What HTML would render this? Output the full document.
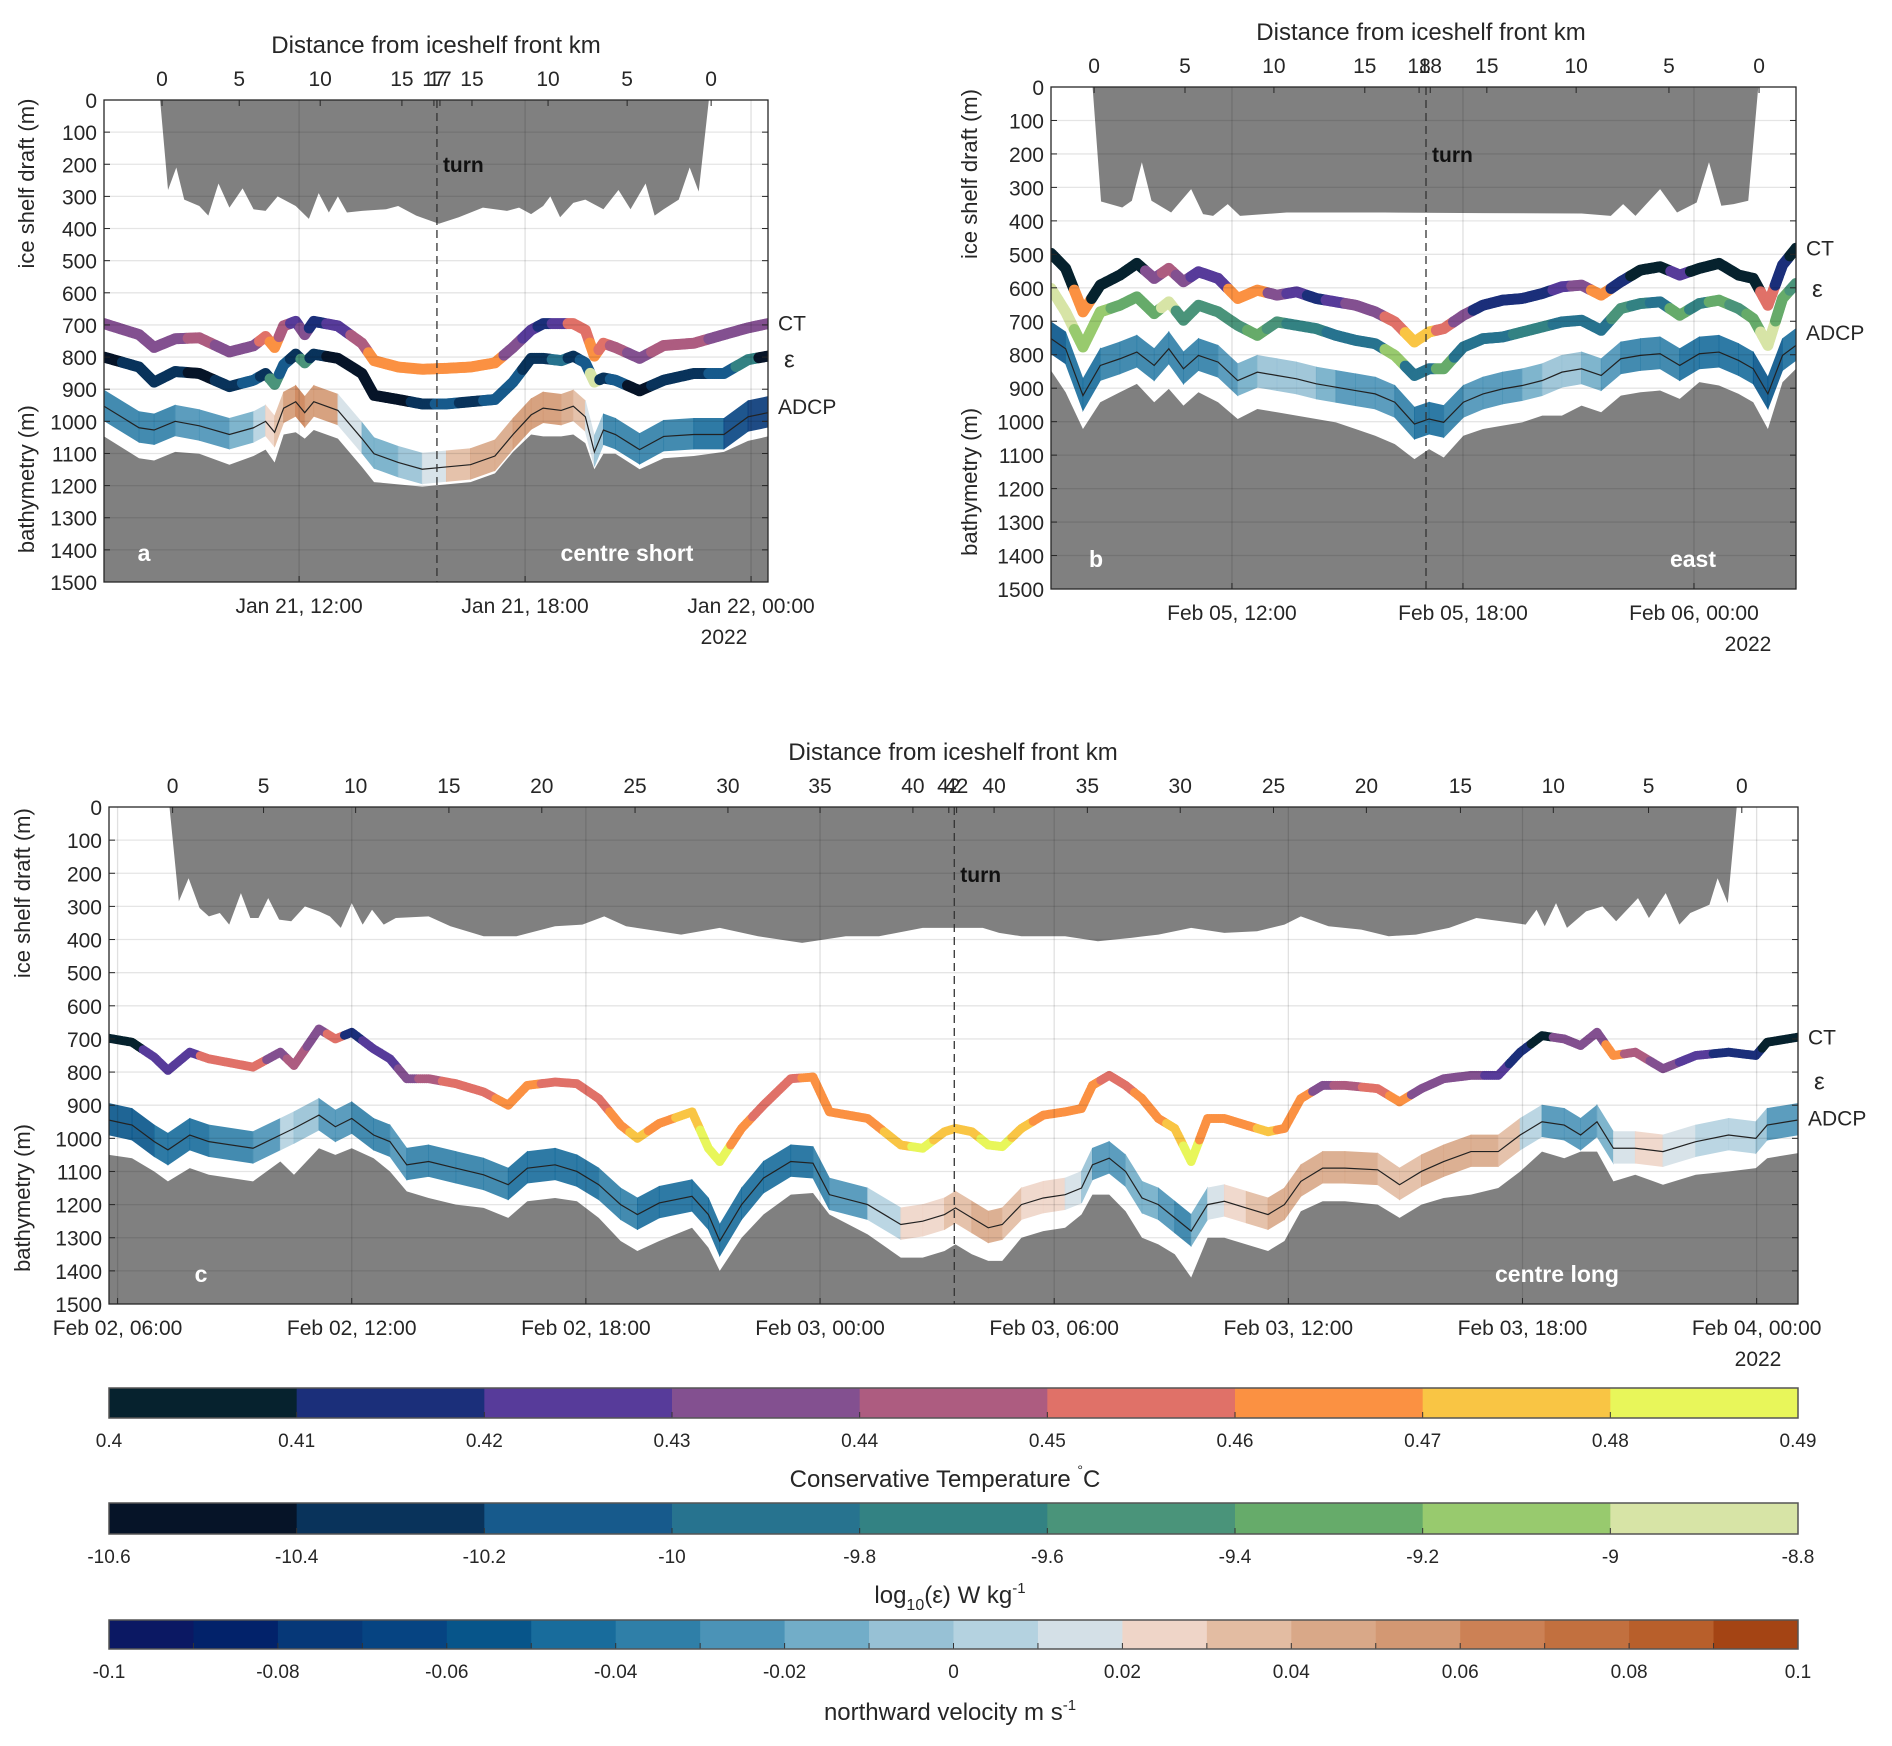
<!DOCTYPE html>
<html><head><meta charset="utf-8">
<style>
html,body{margin:0;padding:0;background:#fff;}
svg{display:block;font-family:"Liberation Sans",Arial,sans-serif;}
</style></head>
<body>
<svg id="fig" width="1892" height="1746" viewBox="0 0 1892 1746" xmlns="http://www.w3.org/2000/svg"></svg>
<script>
// ---------------- Panel a (Jan 21, hours since Jan 21 00:00) ----------------
const aTime  = [6.82,7.75,8.15,8.71,9.35,10.15,10.79,11.11,11.35,11.59,11.91,12.15,12.39,13.03,13.67,13.99,14.63,15.27,15.91,16.55,17.20,17.68,18.16,18.48,18.96,19.28,19.60,19.84,20.08,20.40,21.04,21.68,22.48,23.28,23.92,24.45];
const aCT    = [696,730,770,743,740,784,765,736,770,703,689,730,689,703,757,811,831,838,835,831,818,770,716,696,696,696,716,797,757,770,804,764,757,730,709,696];
const aCTval = [0.435,0.437,0.44,0.44,0.445,0.44,0.44,0.45,0.46,0.445,0.425,0.435,0.42,0.425,0.445,0.46,0.465,0.465,0.465,0.465,0.46,0.44,0.425,0.42,0.43,0.45,0.455,0.46,0.45,0.445,0.44,0.445,0.445,0.44,0.435,0.435];
const aEps   = [800,831,878,845,851,892,872,851,885,824,791,818,791,804,851,919,932,946,946,939,932,878,804,804,811,797,818,878,865,872,905,872,851,851,808,797];
const aEpsVal= [-10.45,-10.3,-10.35,-10.3,-10.4,-10.3,-10.2,-10.3,-9.5,-10.2,-10.3,-9.6,-10.3,-10.4,-10.4,-10.45,-10.4,-10.3,-10.2,-10.3,-10.1,-10.2,-10.3,-10.35,-9.9,-10.3,-10.1,-9.0,-10.3,-10.2,-10.45,-10.3,-10.3,-10.2,-9.7,-10.4];
const aAdcp  = [953,1020,1027,1000,1014,1041,1020,1000,1034,959,939,973,939,966,1054,1101,1128,1149,1142,1135,1108,1041,980,959,966,953,986,1095,1027,1041,1088,1047,1041,1041,986,973];
const aVel   = [-0.04,-0.04,-0.04,-0.03,-0.03,-0.02,-0.01,0.02,0.02,0.04,0.07,0.06,0.06,0.04,-0.01,-0.02,-0.01,0.0,0.03,0.04,0.04,0.05,0.05,0.05,0.05,0.04,0.02,0.01,-0.03,-0.04,-0.04,-0.04,-0.04,-0.05,-0.07,-0.08];
const aBathy = [1047,1115,1122,1095,1101,1135,1108,1088,1128,1041,1034,1054,1027,1054,1142,1189,1196,1203,1196,1189,1162,1095,1041,1047,1047,1041,1068,1149,1101,1101,1149,1115,1108,1095,1061,1047];
const aIceTime = [8.31,8.52,8.74,8.95,9.35,9.59,9.86,10.15,10.50,10.79,11.11,11.43,11.91,12.26,12.52,12.79,13.03,13.27,13.67,14.31,14.63,15.11,15.71,16.24,16.88,17.52,17.84,18.16,18.48,18.67,18.93,19.28,19.60,20.08,20.48,20.80,21.20,21.44,21.68,22.08,22.37,22.61,22.88];
const aIce     = [0,280,210,310,330,360,260,335,275,340,345,300,330,370,290,350,300,350,345,340,330,360,385,365,335,345,335,355,330,300,365,320,310,340,280,340,260,360,340,310,210,285,0];
const aDateTicks = [12,18,24];
const aDateLabels = ["Jan 21, 12:00","Jan 21, 18:00","Jan 22, 00:00"];
const aDistTicks = [8.36,10.41,12.56,14.73,15.58,15.74,16.59,18.61,20.71,22.94];
const aDistLabels = ["0","5","10","15","17","17","15","10","5","0"];

// ---------------- Panel b (Feb 05, hours since Feb 05 00:00) ----------------
const bTime  = [7.30,7.68,8.13,8.58,9.09,9.53,9.98,10.36,10.74,11.13,11.64,12.15,12.66,13.17,13.68,14.19,14.70,15.21,15.72,16.23,16.74,17.12,17.50,18.01,18.52,19.03,19.54,20.06,20.57,21.08,21.59,22.10,22.61,23.12,23.63,24.14,24.65,25.16,25.54,25.92,26.30,26.65];
const bCT    = [497,542,672,592,562,527,572,542,582,552,572,632,607,622,612,632,642,652,672,702,762,732,722,682,652,637,632,617,597,592,622,582,547,537,562,542,527,562,572,652,532,482];
const bCTval = [0.40,0.40,0.46,0.41,0.40,0.40,0.44,0.445,0.44,0.425,0.43,0.46,0.46,0.44,0.425,0.42,0.43,0.435,0.44,0.45,0.475,0.475,0.455,0.44,0.42,0.42,0.415,0.42,0.43,0.44,0.46,0.42,0.40,0.40,0.425,0.40,0.40,0.40,0.40,0.45,0.42,0.40];
const bEps   = [602,672,777,672,652,627,677,642,697,652,672,712,742,702,712,722,742,757,767,802,862,842,842,777,752,747,732,717,702,697,727,662,647,642,682,647,637,662,692,772,632,587];
const bEpsVal= [-8.9,-8.95,-9.2,-9.2,-9.3,-9.35,-9.4,-9.0,-9.45,-9.5,-9.6,-9.6,-9.3,-9.6,-9.7,-9.75,-9.8,-9.8,-9.8,-9.2,-9.8,-9.9,-9.3,-9.8,-9.9,-9.85,-9.75,-9.7,-9.85,-9.9,-9.9,-9.6,-9.7,-9.9,-9.3,-9.7,-9.4,-9.6,-9.3,-8.9,-9.3,-9.5];
const bAdcp  = [752,782,922,832,812,792,832,782,842,802,822,877,852,862,872,887,897,907,917,942,1007,992,1002,942,917,902,892,877,852,842,862,812,802,797,832,797,792,817,842,917,802,772];
const bVel   = [-0.06,-0.05,-0.05,-0.04,-0.04,-0.03,-0.04,-0.04,-0.04,-0.03,-0.04,-0.02,-0.01,-0.01,-0.01,-0.01,-0.02,-0.02,-0.03,-0.03,-0.05,-0.05,-0.04,-0.03,-0.02,-0.02,-0.02,-0.01,0.0,-0.01,-0.02,-0.03,-0.04,-0.04,-0.04,-0.05,-0.05,-0.05,-0.05,-0.06,-0.05,-0.05];
const bBathy = [847,912,1022,942,912,887,942,902,952,912,942,992,962,972,982,992,1002,1022,1042,1067,1112,1082,1107,1042,1022,1012,1002,982,982,952,972,922,912,907,932,882,892,917,942,1022,882,842];
const bIceTime = [8.38,8.60,9.15,9.40,9.66,9.91,10.42,10.94,11.25,11.51,11.89,12.21,13.42,15.97,18.52,21.08,21.84,22.16,22.48,23.12,23.56,24.07,24.39,24.71,25.03,25.41,25.67];
const bIce     = [0,342,360,340,225,340,375,305,380,385,350,385,375,375,377,378,385,350,385,305,375,345,225,355,350,340,0];
const bDateTicks = [12,18,24];
const bDateLabels = ["Feb 05, 12:00","Feb 05, 18:00","Feb 06, 00:00"];
const bDistTicks = [8.42,10.78,13.09,15.45,16.86,17.15,18.62,20.94,23.35,25.69];
const bDistLabels = ["0","5","10","15","18","18","15","10","5","0"];

// ---------------- Panel c (hours since Feb 02 00:00) ----------------
const cTime  = [5.78,6.37,6.94,7.29,7.85,8.34,9.47,10.17,10.52,11.16,11.58,12.0,12.56,12.98,13.41,13.97,14.67,15.38,16.01,16.50,17.21,17.77,18.33,18.89,19.32,19.88,20.72,21.14,21.43,21.99,22.55,23.25,23.82,24.24,25.22,26.07,26.63,27.19,
                27.47,27.89,28.31,28.67,29.16,29.72,30.28,30.70,30.98,31.41,31.83,32.25,32.67,33.09,33.51,33.93,34.36,34.92,35.48,35.90,36.32,36.88,37.45,38.29,38.85,39.41,39.98,40.68,41.38,41.94,42.50,43.07,43.49,43.91,44.33,44.89,45.60,46.44,47.28,47.98,48.27,49.04];
const cCT    = [698,710,755,795,740,760,785,740,780,670,700,680,730,760,820,820,835,860,900,840,830,835,880,960,1000,955,920,1030,1070,970,900,820,815,920,940,1020,1030,980,
                970,980,1020,1025,970,930,920,910,840,810,840,880,940,970,1070,940,940,960,980,970,880,840,840,850,890,850,820,810,810,740,690,700,720,680,750,740,790,750,740,750,710,695];
const cCTval = [0.41,0.41,0.425,0.43,0.43,0.45,0.45,0.44,0.445,0.435,0.45,0.42,0.425,0.43,0.44,0.445,0.45,0.455,0.465,0.46,0.45,0.45,0.455,0.47,0.48,0.47,0.475,0.485,0.485,0.47,0.455,0.45,0.46,0.465,0.47,0.48,0.485,0.475,
                0.475,0.48,0.485,0.485,0.48,0.47,0.47,0.465,0.46,0.455,0.455,0.47,0.47,0.48,0.485,0.47,0.47,0.47,0.475,0.47,0.46,0.44,0.445,0.45,0.46,0.44,0.44,0.435,0.43,0.42,0.41,0.435,0.44,0.44,0.46,0.445,0.44,0.43,0.42,0.42,0.40,0.40];
const cAdcp  = [945,960,1010,1035,990,1010,1030,990,970,930,965,940,990,1010,1080,1070,1090,1110,1140,1090,1080,1100,1140,1200,1230,1195,1175,1230,1310,1200,1120,1070,1075,1170,1200,1260,1250,1230,
                1210,1240,1270,1260,1200,1180,1170,1150,1080,1060,1100,1180,1200,1240,1280,1200,1190,1210,1230,1200,1130,1090,1090,1095,1140,1100,1070,1040,1040,990,950,960,990,950,1030,1030,1040,1010,990,1000,960,945];
const cVel   = [-0.05,-0.06,-0.05,-0.05,-0.05,-0.04,-0.03,-0.01,0.02,-0.03,-0.02,-0.03,-0.04,-0.03,-0.03,-0.04,-0.04,-0.04,-0.04,-0.05,-0.05,-0.05,-0.04,-0.04,-0.04,-0.05,-0.05,-0.05,-0.05,-0.05,-0.05,-0.05,-0.05,-0.03,-0.01,0.03,0.02,0.03,
                0.03,0.04,0.05,0.04,0.03,0.02,0.02,0.01,-0.02,-0.02,-0.02,-0.01,-0.02,-0.03,-0.04,0.01,0.02,0.03,0.04,0.04,0.04,0.05,0.04,0.04,0.03,0.04,0.04,0.04,0.04,0.03,-0.03,-0.03,-0.02,-0.04,0.01,0.02,0.02,0.01,0.01,0.01,-0.02,-0.02];
const cBathy = [1050,1060,1100,1130,1090,1110,1130,1070,1110,1030,1050,1030,1060,1100,1160,1180,1200,1210,1240,1190,1180,1190,1240,1310,1340,1310,1270,1330,1400,1300,1230,1170,1165,1230,1290,1360,1360,1340,
                1320,1350,1370,1370,1300,1280,1270,1230,1170,1170,1220,1300,1320,1350,1420,1300,1300,1320,1340,1310,1220,1190,1190,1200,1240,1200,1180,1170,1150,1100,1040,1060,1040,1040,1130,1110,1140,1110,1100,1090,1060,1045];
const cIceTime = [7.33,7.57,7.82,8.10,8.34,8.62,8.86,9.16,9.40,9.61,9.86,10.14,10.45,10.80,11.16,11.44,11.72,12.0,12.28,12.52,12.82,13.13,13.97,14.53,15.38,16.22,17.21,17.91,18.47,19.03,20.44,21.43,22.41,23.54,24.66,25.51,26.63,
                  27.47,28.17,28.59,29.16,29.72,30.28,31.12,31.97,32.67,33.51,34.36,35.20,35.90,36.32,37.03,37.87,38.57,39.27,40.12,40.82,41.80,42.08,42.36,42.57,42.86,43.14,43.63,44.05,44.40,44.96,45.24,45.67,46.02,46.30,46.79,47.0,47.26,47.49];
const cIce     = [0,285,215,305,330,320,355,260,335,335,275,340,345,300,315,330,365,290,355,310,355,335,330,360,390,390,360,355,330,360,385,365,390,410,390,390,365,
                  365,365,380,390,390,390,405,395,385,365,380,375,355,330,360,370,390,385,365,335,350,355,310,360,290,365,315,300,345,275,335,260,355,320,295,215,290,0];
const cDateTicks = [6,12,18,24,30,36,42,48];
const cDateLabels = ["Feb 02, 06:00","Feb 02, 12:00","Feb 02, 18:00","Feb 03, 00:00","Feb 03, 06:00","Feb 03, 12:00","Feb 03, 18:00","Feb 04, 00:00"];
const cDistTicks = [7.41,9.74,12.10,14.49,16.87,19.26,21.64,24.0,26.38,27.30,27.50,28.46,30.85,33.23,35.62,38.0,40.41,42.79,45.23,47.62];
const cDistLabels = ["0","5","10","15","20","25","30","35","40","42","42","40","35","30","25","20","15","10","5","0"];

// ---------------- Colour bars ----------------
const ctTicks  = [0.4,0.41,0.42,0.43,0.44,0.45,0.46,0.47,0.48,0.49];
const ctColors = ["#06222e","#1b2f7a","#573b9a","#835090","#ad5c80","#e07168","#fb9142","#f9c544","#e8f65a"];
const epsTicks = [-10.6,-10.4,-10.2,-10,-9.8,-9.6,-9.4,-9.2,-9,-8.8];
const epsColors= ["#061428","#09335b","#175a8c","#27738f","#338283","#4a947a","#66ab6a","#98ca6e","#d7e4a6"];
const velTicks = [-0.1,-0.08,-0.06,-0.04,-0.02,0,0.02,0.04,0.06,0.08,0.1];
const velColors= ["#0b1863","#02226a","#063878","#064482","#07558a","#186c9c","#2f7fa8","#4b93b7","#72adc8","#97c1d5","#b4d2e0","#d4e0e7","#efd5c8","#e3bca2","#d9a888","#d39873","#cc8155","#c2703f","#b85f2b","#a44414"];

const NS="http://www.w3.org/2000/svg";
const svg=document.getElementById('fig');
function mk(tag,attrs,parent){const e=document.createElementNS(NS,tag);for(const k in attrs)e.setAttribute(k,attrs[k]);(parent||svg).appendChild(e);return e;}
function txt(s,x,y,opt,parent){const t=mk('text',Object.assign({x:x,y:y,'font-size':21,fill:'#262626','text-anchor':'middle'},opt||{}),parent);t.textContent=s;return t;}
function cmap(colors,lo,hi,v){let i=Math.floor((v-lo)/(hi-lo)*colors.length);i=Math.max(0,Math.min(colors.length-1,i));return colors[i];}

function panel(P){
  const g=mk('g',{});
  
  
  const X=h=>P.x0+(h-P.h0)/(P.h1-P.h0)*(P.x1-P.x0);
  const Y=d=>P.y0+d/1500*(P.y1-P.y0);
  const clipId='clip'+P.id;
  const cp=mk('clipPath',{id:clipId},g);mk('rect',{x:P.x0,y:P.y0,width:P.x1-P.x0,height:P.y1-P.y0},cp);
  const inner=mk('g',{'clip-path':'url(#'+clipId+')'},g);
  let pts=P.iceT.map((t,i)=>X(t)+','+Y(P.ice[i])).join(' ');
  const ice=mk('polygon',{points:X(P.iceT[0])+','+Y(0)+' '+pts+' '+X(P.iceT[P.iceT.length-1])+','+Y(0),fill:'#808080'},inner);
  
  
  const bp=[X(P.t[0])-30+','+Y(1500),X(P.t[0])-30+','+Y(P.bathy[0])].concat(P.t.map((t,i)=>X(t)+','+Y(P.bathy[i]))).concat([X(P.t[P.t.length-1])+30+','+Y(P.bathy[P.bathy.length-1]),X(P.t[P.t.length-1])+30+','+Y(1500)]);
  const bat=mk('polygon',{points:bp.join(' '),fill:'#808080'},inner);
  
  
  const ag=mk('g',{},inner);
  
  
  for(let i=0;i<P.t.length-1;i++){
    const xa=X(P.t[i]),xb=X(P.t[i+1]);
    const q=[xa+','+Y(P.adcp[i]-50),xb+','+Y(P.adcp[i+1]-50),xb+','+Y(P.adcp[i+1]+45),xa+','+Y(P.adcp[i]+45)].join(' ');
    const col=cmap(velColors,-0.1,0.1,(P.vel[i]+P.vel[i+1])/2);
    mk('polygon',{points:q,fill:col,stroke:col,'stroke-width':0.8,opacity:0.9},ag);
  }
  const cl=mk('polyline',{points:P.t.map((t,i)=>X(t)+','+Y(P.adcp[i])).join(' '),fill:'none',stroke:'#222','stroke-width':1.2},inner);
  
  
  function dots(vals,cv,colors,lo,hi,r,nm){
    const dg=mk('g',{},inner);
    
    
    for(let i=0;i<P.t.length-1;i++){
      const xa=X(P.t[i]),xb=X(P.t[i+1]),ya=Y(vals[i]),yb=Y(vals[i+1]);
      const n=Math.max(1,Math.ceil(Math.hypot(xb-xa,yb-ya)/2));
      for(let k=0;k<n;k++){const f=k/n;const v=f<0.5?cv[i]:cv[i+1];
        mk('circle',{cx:xa+(xb-xa)*f,cy:ya+(yb-ya)*f,r:r,fill:cmap(colors,lo,hi,v)},dg);}
    }
    const L=P.t.length-1;mk('circle',{cx:X(P.t[L]),cy:Y(vals[L]),r:r,fill:cmap(colors,lo,hi,cv[L])},dg);
  }
  if(P.eps) dots(P.eps,P.epsVal,epsColors,-10.6,-8.8,P.r,'epsilon-series');
  dots(P.ct,P.ctVal,ctColors,0.4,0.49,P.r,'ct-series');
  for(let d=100;d<1500;d+=100) mk('line',{x1:P.x0,x2:P.x1,y1:Y(d),y2:Y(d),stroke:'rgba(0,0,0,0.1)','stroke-width':1.3},g);
  P.dateT.forEach(h=>mk('line',{x1:X(h),x2:X(h),y1:P.y0,y2:P.y1,stroke:'rgba(0,0,0,0.12)','stroke-width':1.3},g));
  const tl=mk('line',{x1:X(P.turn),x2:X(P.turn),y1:P.y0,y2:P.y1,stroke:'#333','stroke-width':1.3,'stroke-dasharray':'8,5'},g);
  
  
  const tt=txt('turn',X(P.turn)+6,P.turnY,{'text-anchor':'start','font-weight':'bold','font-size':21,fill:'#111'},g);
  
  
  mk('rect',{x:P.x0,y:P.y0,width:P.x1-P.x0,height:P.y1-P.y0,fill:'none',stroke:'#262626','stroke-width':1.3},g);
  const yt=mk('g',{},g);
  
  
  for(let d=0;d<=1500;d+=100){
    mk('line',{x1:P.x0,x2:P.x0+6,y1:Y(d),y2:Y(d),stroke:'#262626'},yt);
    mk('line',{x1:P.x1,x2:P.x1-6,y1:Y(d),y2:Y(d),stroke:'#262626'},yt);
    txt(String(d),P.x0-7,Y(d)+8,{'text-anchor':'end','font-size':21},yt);
  }
  const dt=mk('g',{},g);
  
  
  P.dateT.forEach((h,i)=>{mk('line',{x1:X(h),x2:X(h),y1:P.y1,y2:P.y1-6,stroke:'#262626'},dt);
    txt(P.dateL[i],X(h),P.y1+31,{'font-size':21},dt);});
  txt('2022',P.yearX,P.y1+62,{'font-size':21},dt);
  const tg=mk('g',{},g);
  
  
  P.distT.forEach((h,i)=>{mk('line',{x1:X(h),x2:X(h),y1:P.y0,y2:P.y0+6,stroke:'#262626'},tg);
    txt(P.distL[i],X(h),P.y0-14,{'font-size':21},tg);});
  const dtit=txt('Distance from iceshelf front km',P.distTitleX,P.y0-47,{'font-size':24},g);
  
  
  const yl1=txt('ice shelf draft (m)',0,0,{'font-size':22,transform:'translate('+P.ylX+','+Y(260)+') rotate(-90)'},g);
  
  
  const yl2=txt('bathymetry (m)',0,0,{'font-size':22,transform:'translate('+P.ylX+','+Y(1180)+') rotate(-90)'},g);
  
  
  const pl=txt(P.letter,P.x0+P.letterDx,Y(1410)+8,{'font-size':23,'font-weight':'bold',fill:'#fff'},g);
  
  
  const pn=txt(P.title,P.titleX,Y(1410)+8,{'font-size':23,'font-weight':'bold',fill:'#fff'},g);
  
  
  const l1=txt('CT',P.x1+10,Y(P.ct[P.ct.length-1])+7,{'text-anchor':'start','font-size':21},g);
  
  
  const l2=txt('ε',P.x1+16,Y(P.epsLabelD)+9,{'text-anchor':'start','font-size':24},g);
  
  
  const l3=txt('ADCP',P.x1+10,Y(P.adcpLabelD)+7,{'text-anchor':'start','font-size':21},g);
  
  
}

panel({id:'a',name:'panel-a-centre-short',x0:104,x1:768,y0:100,y1:582,h0:6.82,h1:24.45,
  t:aTime,ct:aCT,ctVal:aCTval,eps:aEps,epsVal:aEpsVal,adcp:aAdcp,vel:aVel,bathy:aBathy,iceT:aIceTime,ice:aIce,
  dateT:aDateTicks,dateL:aDateLabels,distT:aDistTicks,distL:aDistLabels,turn:15.66,turnY:172,r:5.5,
  yearX:724,distTitleX:436,ylX:34,letter:'a',letterDx:40,title:'centre short',titleX:627,epsLabelD:805,adcpLabelD:955});
panel({id:'b',name:'panel-b-east',x0:1051,x1:1796,y0:87,y1:589,h0:7.30,h1:26.65,
  t:bTime,ct:bCT,ctVal:bCTval,eps:bEps,epsVal:bEpsVal,adcp:bAdcp,vel:bVel,bathy:bBathy,iceT:bIceTime,ice:bIce,
  dateT:bDateTicks,dateL:bDateLabels,distT:bDistTicks,distL:bDistLabels,turn:17.04,turnY:162,r:5.5,
  yearX:1748,distTitleX:1421,ylX:977,letter:'b',letterDx:45,title:'east',titleX:1693,epsLabelD:600,adcpLabelD:735});
panel({id:'c',name:'panel-c-centre-long',x0:109,x1:1798,y0:807,y1:1304,h0:5.78,h1:49.06,
  t:cTime,ct:cCT,ctVal:cCTval,eps:null,epsVal:null,adcp:cAdcp,vel:cVel,bathy:cBathy,iceT:cIceTime,ice:cIce,
  dateT:cDateTicks,dateL:cDateLabels,distT:cDistTicks,distL:cDistLabels,turn:27.44,turnY:882,r:4.5,
  yearX:1758,distTitleX:953,ylX:30,letter:'c',letterDx:92,title:'centre long',titleX:1557,epsLabelD:825,adcpLabelD:940});

function cbar(nm,y,h,colors,ticks){
  const g=mk('g',{});
  
  
  const x0=109,x1=1798,w=(x1-x0)/colors.length;
  colors.forEach((c,i)=>mk('rect',{x:x0+i*w,y:y,width:w+0.5,height:h,fill:c},g));
  for(let i=1;i<colors.length;i++) mk('line',{x1:x0+i*w,x2:x0+i*w,y1:y+h-6,y2:y+h,stroke:'#333'},g);
  mk('rect',{x:x0,y:y,width:x1-x0,height:h,fill:'none',stroke:'#555','stroke-width':1.5},g);
  const tw=(x1-x0)/(ticks.length-1);
  ticks.forEach((t,i)=>txt(String(t),x0+i*tw,y+h+29,{'font-size':19},g));
  return g;
}
cbar('ct-colorbar',1388,30,ctColors,ctTicks);
cbar('epsilon-colorbar',1503,31,epsColors,epsTicks);
cbar('velocity-colorbar',1620,29,velColors,velTicks);
let t1=mk('text',{x:945,y:1487,'font-size':24,fill:'#262626','text-anchor':'middle'});


t1.innerHTML='Conservative Temperature <tspan font-size="14" dy="-12">°</tspan><tspan dy="12">C</tspan>';
let t2=mk('text',{x:950,y:1603,'font-size':24,fill:'#262626','text-anchor':'middle'});


t2.innerHTML='log<tspan font-size="16" dy="7">10</tspan><tspan dy="-7">(ε) W kg</tspan><tspan font-size="15" dy="-10">-1</tspan>';
let t3=mk('text',{x:950,y:1720,'font-size':24,fill:'#262626','text-anchor':'middle'});


t3.innerHTML='northward velocity m s<tspan font-size="15" dy="-10">-1</tspan>';
</script>
</body></html>
